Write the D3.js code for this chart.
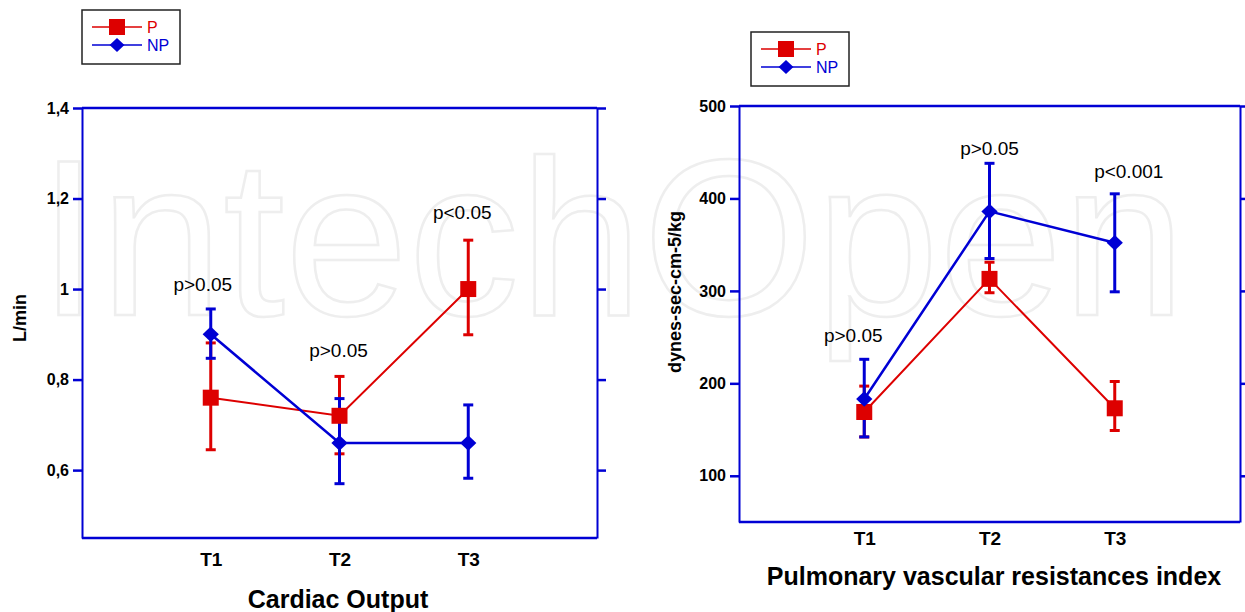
<!DOCTYPE html>
<html>
<head>
<meta charset="UTF-8">
<script src="https://cdnjs.cloudflare.com/ajax/libs/d3/7.8.5/d3.min.js"></script>
<style>
  body { margin: 0; background: #fff; }
  text { font-family: "Liberation Sans", Arial, sans-serif; }
</style>
</head>
<body>
<script>
// shared categories
var timePoints = ["T1", "T2", "T3"];
var seriesNames = ["P", "NP"];

// Cardiac Output (L/min)
var coP    = [0.76, 0.72, 1.00];
var coPLo  = [0.645, 0.636, 0.899];
var coPHi  = [0.881, 0.807, 1.108];
var coNP   = [0.90, 0.66, 0.66];
var coNPLo = [0.847, 0.570, 0.582];
var coNPHi = [0.956, 0.758, 0.744];
var coTicks = [0.6, 0.8, 1.0, 1.2, 1.4];
var coTickLabels = ["0,6", "0,8", "1", "1,2", "1,4"];
var coPvals = ["p>0.05", "p>0.05", "p<0.05"];
var coPvalAt = [1.01, 0.866, 1.17];

// Pulmonary vascular resistances index (dynes-sec-cm-5/kg)
var pvP    = [169, 313, 173];
var pvPLo  = [142, 298, 149];
var pvPHi  = [197, 331, 202];
var pvNP   = [183, 386, 352];
var pvNPLo = [142, 335, 299];
var pvNPHi = [226, 438, 405];
var pvTicks = [100, 200, 300, 400, 500];
var pvTickLabels = ["100", "200", "300", "400", "500"];
var pvPvals = ["p>0.05", "p>0.05", "p<0.001"];
var pvPvalAt = [252, 454, 429];

var red = "#dd0000", blue = "#0000d4";

// wide diamond like the original marker
var wideDiamond = {
    draw: function (ctx, size) {
        var r = Math.sqrt(size) / 2;
        ctx.moveTo(0, -r);
        ctx.lineTo(r * 1.05, 0);
        ctx.lineTo(0, r);
        ctx.lineTo(-r * 1.05, 0);
        ctx.closePath();
    }
};

var svg = d3.select("body").append("svg")
    .attr("width", 1245)
    .attr("height", 612);

// watermark
svg.append("text")
    .attr("x", 38).attr("y", 315)
    .attr("font-size", 222)
    .attr("fill", "none")
    .attr("stroke", "#eeeeee")
    .attr("stroke-width", 2.5)
    .text("IntechOpen");

function panel(o) {
    var x = d3.scaleLinear().domain([0, 4]).range([o.left, o.right]);
    var y = d3.scaleLinear().domain(o.domain).range([o.bottom, o.top]);
    var g = svg.append("g");

    // frame
    g.append("line").attr("x1", o.left).attr("x2", o.right)
        .attr("y1", o.top).attr("y2", o.top)
        .attr("stroke", blue).attr("stroke-width", 2.5);
    g.append("line").attr("x1", o.left).attr("x2", o.right)
        .attr("y1", o.bottom).attr("y2", o.bottom)
        .attr("stroke", blue).attr("stroke-width", 2.5);

    var yl = g.append("g").attr("transform", "translate(" + o.left + ",0)")
        .call(d3.axisLeft(y).tickValues(o.ticks)
            .tickFormat(function (d, i) { return o.tickLabels[i]; })
            .tickSize(9).tickSizeOuter(0).tickPadding(4));
    var yr = g.append("g").attr("transform", "translate(" + o.right + ",0)")
        .call(d3.axisRight(y).tickValues(o.ticks).tickFormat("")
            .tickSize(9).tickSizeOuter(0));
    [yl, yr].forEach(function (a) {
        a.select(".domain").attr("stroke", blue).attr("stroke-width", 2);
        a.selectAll(".tick line").attr("stroke", blue).attr("stroke-width", 2.5);
    });
    yl.selectAll(".tick text")
        .attr("font-family", "Liberation Sans, Arial, sans-serif")
        .attr("font-size", 16).attr("font-weight", "bold").attr("fill", "#000");

    var xb = g.append("g").attr("transform", "translate(0," + o.bottom + ")")
        .call(d3.axisBottom(x).tickValues([1, 2, 3])
            .tickFormat(function (d) { return timePoints[d - 1]; })
            .tickSize(0).tickPadding(o.xPad));
    xb.select(".domain").remove();
    xb.selectAll(".tick text")
        .attr("font-family", "Liberation Sans, Arial, sans-serif")
        .attr("font-size", 19).attr("font-weight", "bold").attr("fill", "#000");

    // titles
    g.append("text").attr("x", o.titleX).attr("y", o.titleY)
        .attr("text-anchor", "middle").attr("font-size", 25).attr("font-weight", "bold")
        .text(o.title);
    g.append("text")
        .attr("transform", "translate(" + o.yLabelX + "," + o.yLabelY + ") rotate(-90)")
        .attr("text-anchor", "middle").attr("font-size", o.yLabelSize).attr("font-weight", "bold")
        .text(o.yLabel);

    var series = [
        {name: seriesNames[0], v: o.P, lo: o.PLo, hi: o.PHi, color: red, lw: 2, shape: d3.symbolSquare, size: 256},
        {name: seriesNames[1], v: o.NP, lo: o.NPLo, hi: o.NPHi, color: blue, lw: 2.5, shape: wideDiamond, size: 240}
    ];

    var line = d3.line().x(function (d, i) { return x(i + 1); }).y(function (d) { return y(d); });
    series.forEach(function (s) {
        g.append("path").datum(s.v).attr("d", line)
            .attr("fill", "none").attr("stroke", s.color).attr("stroke-width", s.lw);
    });
    series.forEach(function (s) {
        var eb = g.append("g").attr("stroke", s.color).attr("stroke-width", 3);
        s.v.forEach(function (d, i) {
            var cx = x(i + 1);
            eb.append("line").attr("x1", cx).attr("x2", cx).attr("y1", y(s.lo[i])).attr("y2", y(s.hi[i]));
            eb.append("line").attr("x1", cx - 5).attr("x2", cx + 5).attr("y1", y(s.lo[i])).attr("y2", y(s.lo[i]));
            eb.append("line").attr("x1", cx - 5).attr("x2", cx + 5).attr("y1", y(s.hi[i])).attr("y2", y(s.hi[i]));
        });
    });
    series.forEach(function (s) {
        g.selectAll(null).data(s.v).enter().append("path")
            .attr("transform", function (d, i) { return "translate(" + x(i + 1) + "," + y(d) + ")"; })
            .attr("d", d3.symbol().type(s.shape).size(s.size))
            .attr("fill", s.color);
    });

    // p values
    g.selectAll(null).data(o.pvals).enter().append("text")
        .attr("x", function (d, i) { return x(i + 1) + o.pvalDx[i]; })
        .attr("y", function (d, i) { return y(o.pvalAt[i]); })
        .attr("dy", "0.36em")
        .attr("text-anchor", "middle").attr("font-size", 19).attr("fill", "#000")
        .text(function (d) { return d; });

    // legend
    var lg = g.append("g").attr("transform", "translate(" + o.legX + "," + o.legY + ")");
    lg.append("rect").attr("width", 98).attr("height", 54)
        .attr("fill", "#fff").attr("stroke", "#222").attr("stroke-width", 1.5);
    series.forEach(function (s, i) {
        var ly = 17 + i * 18;
        lg.append("line").attr("x1", 10).attr("x2", 60).attr("y1", ly).attr("y2", ly)
            .attr("stroke", s.color).attr("stroke-width", 1.5);
        lg.append("path").attr("transform", "translate(35," + ly + ")")
            .attr("d", d3.symbol().type(s.shape).size(i ? 200 : 256)).attr("fill", s.color);
        lg.append("text").attr("x", 65).attr("y", ly).attr("dy", "0.36em")
            .attr("font-size", 16).attr("fill", s.color).text(s.name);
    });
}

panel({
    left: 82, right: 597, top: 108, bottom: 538, domain: [0.45, 1.4],
    ticks: coTicks, tickLabels: coTickLabels, xPad: 15,
    P: coP, PLo: coPLo, PHi: coPHi, NP: coNP, NPLo: coNPLo, NPHi: coNPHi,
    pvals: coPvals, pvalAt: coPvalAt, pvalDx: [-8, -1, -6],
    title: "Cardiac Output", titleX: 338, titleY: 608,
    yLabel: "L/min", yLabelX: 26, yLabelY: 318, yLabelSize: 18,
    legX: 82, legY: 10
});

panel({
    left: 739, right: 1240, top: 106, bottom: 522, domain: [50, 500],
    ticks: pvTicks, tickLabels: pvTickLabels, xPad: 10,
    P: pvP, PLo: pvPLo, PHi: pvPHi, NP: pvNP, NPLo: pvNPLo, NPHi: pvNPHi,
    pvals: pvPvals, pvalAt: pvPvalAt, pvalDx: [-11, 0, 14],
    title: "Pulmonary vascular resistances index", titleX: 994, titleY: 585,
    yLabel: "dynes-sec-cm-5/kg", yLabelX: 681, yLabelY: 292, yLabelSize: 18,
    legX: 751, legY: 32
});
</script>
</body>
</html>
